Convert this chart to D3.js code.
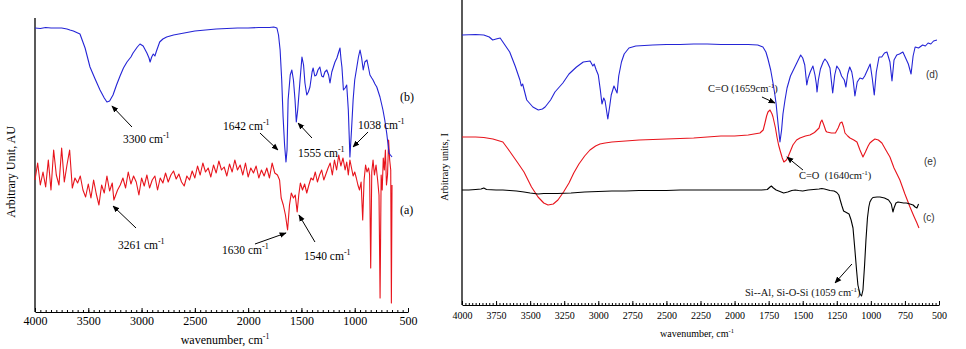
<!DOCTYPE html>
<html><head><meta charset="utf-8">
<script src="https://cdn.jsdelivr.net/npm/d3@7"></script>
<style>body{margin:0;background:#fff}svg{display:block}</style>
</head><body><svg id="c" width="966" height="349"></svg>
<script>
// ---------- DATA ----------
const majorTicksLeft = [4000,3500,3000,2500,2000,1500,1000,500];
const majorTicksRight = [4000,3750,3500,3250,3000,2750,2500,2250,2000,1750,1500,1250,1000,750,500];

// Left panel, curve (b) blue
const bWave = [4000,3950,3900,3850,3800,3750,3700,3672,3640,3578,3530,3484,3440,3390,3350,3325,3300,3268,3235,3202,3170,3137,3100,3080,3040,3015,2985,2950,2930,2920,2905,2890,2875,2860,2830,2800,2765,2700,2600,2500,2400,2300,2200,2100,2000,1900,1800,1760,1730,1715,1700,1685,1672,1658,1645,1635,1625,1605,1590,1575,1560,1548,1535,1513,1495,1480,1467,1450,1435,1420,1400,1390,1375,1360,1345,1327,1310,1295,1280,1262,1245,1232,1215,1200,1185,1167,1150,1138,1128,1120,1106,1090,1075,1060,1045,1030,1015,1000,980,965,950,935,920,905,885,870,857,840,828,810,793,778,763,750,735,718,700,690,678,665,650];
const bVal = [284,283.5,284.5,284,284,284,283,282,281,278,264,245,234,222,214,210,211,217,227,236,244,250,255,259,265,268,266,259,254,250,255,258,256,261,270,273,275,277,279,281,282,283,283.5,284,284,284.5,284.5,285,284,277,262,232,195,167,150,162,212,237,242,232,212,190,202,232,255,247,229,217,220,225,240,244,236,237,242,245,236,235,240,242,237,229,240,245,250,254,260,264,252,245,222,224,227,202,155,182,212,232,245,255,262,254,242,250,252,244,237,234,232,228,225,220,215,209,202,192,179,170,159,157,155];

// Left panel, curve (a) red
const aWave = [4000,3975,3950,3925,3900,3875,3850,3825,3800,3775,3750,3725,3700,3675,3650,3625,3600,3575,3550,3525,3500,3475,3450,3425,3400,3375,3350,3325,3300,3275,3260,3225,3200,3175,3150,3125,3100,3075,3050,3025,3000,2975,2950,2925,2900,2875,2850,2825,2800,2775,2750,2725,2700,2675,2650,2625,2600,2575,2550,2525,2500,2475,2450,2425,2400,2375,2350,2325,2300,2275,2250,2225,2200,2175,2150,2125,2100,2075,2050,2025,2000,1975,1950,1925,1900,1875,1850,1825,1800,1775,1750,1725,1705,1690,1670,1650,1630,1612,1595,1575,1558,1540,1525,1510,1490,1470,1450,1430,1410,1390,1370,1350,1330,1310,1290,1270,1250,1230,1210,1190,1170,1150,1130,1110,1090,1075,1060,1045,1030,1015,1000,985,970,955,940,925,912,898,885,870,860,850,840,828,815,800,785,772,762,752,742,732,722,712,702,692,682,672,662,656,650];
const aVal = [132,149,127,140,125,152,122,162,137,127,164,130,147,162,124,134,129,136,122,115,128,114,132,118,107,127,119,136,121,129,112,122,127,134,124,140,128,136,130,117,134,126,137,124,132,136,122,134,129,139,130,137,141,133,138,130,126,136,132,141,134,146,137,149,140,144,135,147,139,151,142,145,136,148,140,152,142,147,137,149,135,144,139,146,134,142,136,144,134,149,139,137,132,114,107,97,82,107,119,114,117,100,117,129,122,128,119,127,134,132,140,130,137,142,132,138,144,149,137,152,142,157,146,154,142,150,137,152,144,136,140,134,127,122,130,92,132,147,140,144,137,44,140,152,137,147,132,117,14,137,122,154,142,162,127,137,172,152,142,9,127];

// Right panel, curve (d) blue
const dWave = [4000,3900,3840,3800,3775,3750,3720,3690,3650,3610,3575,3565,3555,3525,3480,3440,3410,3390,3350,3318,3260,3215,3160,3110,3060,3040,3030,3015,3000,2985,2973,2960,2950,2930,2915,2905,2885,2862,2850,2830,2810,2775,2725,2600,2500,2400,2300,2200,2100,2000,1900,1830,1792,1770,1755,1735,1718,1705,1695,1680,1667,1655,1645,1630,1615,1590,1565,1540,1515,1500,1485,1470,1460,1445,1425,1410,1400,1395,1385,1370,1350,1337,1320,1300,1280,1265,1250,1230,1215,1195,1183,1170,1155,1140,1130,1117,1100,1080,1060,1045,1025,1005,990,975,960,940,920,900,882,860,845,830,810,790,765,745,725,705,690,675,650,620,600,580,560,540,515];
const dVal = [270,270.5,270,268,265,266,267,261,253,239,225,219,221,205,198,195,196,198,205,213,222,231,238,243,244,239,241,235,230,215,201,207,204,186,200,210,219,212,229,243,251,257,259,260,260.5,260.5,261,261,260.5,260.5,260.5,260,258,253,246,235,222,211,201,180,163,175,191,205,217,229,236,243,250,247,240,220,227,233,239,230,221,213,225,236,243,246,243,237,212,230,239,235,229,225,218,231,238,233,225,209,223,227,226,229,235,241,227,210,233,248,248,252,253,243,224,245,250,251,253,247,241,231,249,258,257,260,259,262,261,264,265];

// Right panel, curve (e) red
const eWave = [4000,3900,3840,3773,3700,3662,3626,3590,3545,3490,3442,3400,3369,3330,3296,3255,3215,3180,3142,3100,3061,3020,2988,2950,2900,2800,2700,2600,2500,2400,2300,2200,2100,2000,1900,1814,1790,1777,1765,1755,1740,1725,1718,1700,1689,1677,1667,1650,1638,1620,1608,1590,1572,1545,1520,1480,1447,1420,1410,1395,1380,1368,1359,1345,1330,1322,1290,1260,1240,1225,1212,1200,1190,1170,1153,1125,1102,1080,1058,1040,1020,1007,990,970,945,919,890,860,830,787,750,713,685,662,647];
const eVal = [168,168,167.5,166,163,156,149,142,133,118,108,102,100,101,105,113,122,132,141,149,155,159,161,162,163,164,165,165.5,166,166.5,167,168,169,169,170,172,175,182,189,193,195,191,188,177,168,160,155,147,143,145,148,154,160,165,167,169,170,172,173,175,177,183,185,180,174,173,172,172,177,182,183,178,172,169,167,165,163,155,148,153,159,162,164,166,165,162,155,148,137,125,111,98,89,82,77];

// Right panel, curve (c) black
const cWave = [4000,3950,3900,3860,3840,3820,3750,3700,3650,3600,3545,3500,3442,3400,3300,3200,3100,3000,2900,2800,2700,2600,2500,2400,2300,2200,2100,2000,1900,1800,1760,1740,1730,1715,1695,1667,1640,1610,1580,1555,1530,1500,1460,1420,1380,1360,1340,1300,1270,1250,1235,1225,1212,1200,1180,1160,1145,1131,1117,1105,1095,1080,1068,1058,1046,1036,1025,1015,1007,995,985,955,933,900,870,850,838,830,816,801,780,760,740,713,690,675,662,650];
const cVal = [115,115,115.5,116,117,115.5,115,115,114.5,114,113,112,111,111.5,111.5,112,113,113.5,114,114,114.5,114.5,114.5,115,115,115,115,115,115,115,115.5,118,119,117,115,113.5,112,113,114.5,115,114.5,114,115,115.5,116,116.5,116,114.5,114,112.5,110,105,99,94,92.5,91,85,77,55,35,20,11,9,15,40,65,87,98,103,106,107.5,108,108,107,105,101,93,97,102,103,102.5,102,102,101,100,98,97,101];

// Annotations: [text, wave, value, tailWave, tailValue, headWave, headValue]
const leftNotes = [
  ["3300", 3174, 169, 3090, 185, 3278, 206],
  ["1642", 2236, 182, 1889, 179, 1720, 162],
  ["1555", 1532, 155, 1401, 174, 1532, 189],
  ["1038", 969, 183, 875, 180, 1016, 165],
  ["3261", 3221, 63, 3052, 84, 3268, 106],
  ["1630", 2245, 58, 1936, 68, 1645, 79],
  ["1540", 1476, 52, 1373, 70, 1523, 97]
];
const leftLabels = [["(b)", 575, 211], ["(a)", 575, 98]];
const rightNotes = [
  ["C=O (1659cm", ")", 2195, 213, 1799, 208, 1704, 202],
  ["C=O\u00a0 (1640cm", ")", 1528, 126, 1498, 135, 1616, 148],
  ["Si--Al, Si-O-Si (1059 cm", ")", 1924, 9, 1139, 41, 1263, 22]
];
const rightLabels = [["(d)", 596, 227], ["(e)", 610, 140], ["(c)", 618, 84]];

// ---------- DRAW ----------
const svg = d3.select("#c");
const serif = "'Liberation Serif','Times New Roman',serif";
const BLUE = "#2424d6", RED = "#e8141c";

svg.append("defs").append("marker")
  .attr("id","ah").attr("viewBox","0 0 10 10").attr("refX",9).attr("refY",5)
  .attr("markerWidth",7).attr("markerHeight",7).attr("markerUnits","userSpaceOnUse")
  .attr("orient","auto")
  .append("path").attr("d","M0,1 L10,5 L0,9 Z").attr("fill","#000");

function panel(o) {
  const g = svg.append("g");
  const x = d3.scaleLinear().domain([4000,500]).range([o.x0,o.x1]);
  const y = d3.scaleLinear().domain(o.yDom).range([o.yb,o.yt]);
  g.append("g").attr("transform",`translate(0,${o.yb})`)
    .call(d3.axisBottom(x).tickValues(d3.range(4000,499,-o.minor)).tickSize(-2).tickFormat(""))
    .call(s=>s.select(".domain").remove());
  const ax = g.append("g").attr("transform",`translate(0,${o.yb})`)
    .call(d3.axisBottom(x).tickValues(o.major).tickSizeInner(-4).tickSizeOuter(0).tickPadding(o.pad).tickFormat(d3.format("d")));
  ax.selectAll("text").attr("font-family",serif).attr("font-size",o.fs).attr("fill","#000");
  ax.select(".domain").attr("stroke","#000").attr("stroke-width",1.2);
  g.selectAll(".tick line").attr("stroke","#000");
  g.append("line").attr("x1",o.x0).attr("x2",o.x0).attr("y1",o.yt0).attr("y2",o.yb)
    .attr("stroke","#000").attr("stroke-width",1.3);
  const line = d3.line().x(d=>x(d[0])).y(d=>y(d[1]));
  o.series.forEach(s=>{
    g.append("path").datum(d3.zip(s.w,s.v)).attr("d",line)
      .attr("fill","none").attr("stroke",s.c).attr("stroke-width",1.1).attr("stroke-linejoin","round");
  });
  const xt = g.append("text").attr("x",o.xtx).attr("y",o.xty).attr("text-anchor","middle")
    .attr("font-family",serif).attr("font-size",o.fs);
  xt.append("tspan").text("wavenumber, cm");
  xt.append("tspan").attr("dy",-o.fs*0.4).attr("font-size",o.fs*0.65).text("-1");
  g.append("text").attr("transform",`translate(${o.ytx},${o.yty}) rotate(-90)`)
    .attr("text-anchor","middle").attr("font-family",serif).attr("font-size",o.fs).text(o.ytitle);
  return {g,x,y};
}

const L = panel({x0:35,x1:408,yb:312,yt:18,yt0:18,yDom:[0,294],minor:50,major:majorTicksLeft,pad:4,fs:12,
  xtx:225,xty:344,ytx:15,yty:172,ytitle:"Arbitrary Unit, AU",
  series:[{w:aWave,v:aVal,c:RED},{w:bWave,v:bVal,c:BLUE}]});
const R = panel({x0:462,x1:939,yb:305,yt:0,yt0:0,yDom:[0,305],minor:25,major:majorTicksRight,pad:6.5,fs:10,
  xtx:697,xty:337,ytx:448,yty:167,ytitle:"Arbitrary units, I",
  series:[{w:eWave,v:eVal,c:RED},{w:cWave,v:cVal,c:"#000"},{w:dWave,v:dVal,c:BLUE}]});

leftNotes.forEach(n=>{
  const t = L.g.append("text").attr("x",L.x(n[1])).attr("y",L.y(n[2]))
    .attr("font-family",serif).attr("font-size",11.5);
  t.append("tspan").text(n[0]+" cm");
  t.append("tspan").attr("dy",-5).attr("font-size",8).text("-1");
  L.g.append("line").attr("x1",L.x(n[3])).attr("y1",L.y(n[4])).attr("x2",L.x(n[5])).attr("y2",L.y(n[6]))
    .attr("stroke","#000").attr("stroke-width",1).attr("marker-end","url(#ah)");
});
leftLabels.forEach(n=>{
  L.g.append("text").attr("x",L.x(n[1])).attr("y",L.y(n[2])).attr("font-family",serif)
    .attr("font-size",12).text(n[0]);
});
rightNotes.forEach(n=>{
  const t = R.g.append("text").attr("x",R.x(n[2])).attr("y",R.y(n[3]))
    .attr("font-family",serif).attr("font-size",10.5).attr("fill","#111");
  t.append("tspan").text(n[0]);
  t.append("tspan").attr("dy",-4).attr("font-size",7).text("-1");
  t.append("tspan").attr("dy",4).text(n[1]);
  R.g.append("line").attr("x1",R.x(n[4])).attr("y1",R.y(n[5])).attr("x2",R.x(n[6])).attr("y2",R.y(n[7]))
    .attr("stroke","#000").attr("stroke-width",1).attr("marker-end","url(#ah)");
});
rightLabels.forEach(n=>{
  R.g.append("text").attr("x",R.x(n[1])).attr("y",R.y(n[2])).attr("font-family","'Liberation Sans',Arial,sans-serif")
    .attr("font-size",10).attr("fill","#333").text(n[0]);
});
</script></body></html>
